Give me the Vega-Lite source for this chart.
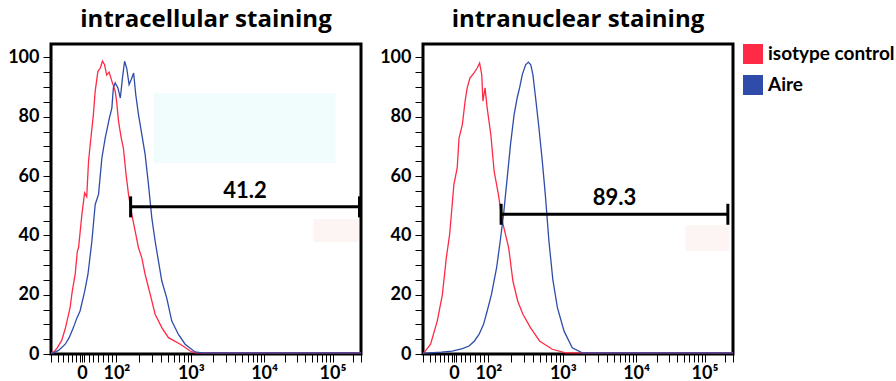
{
  "$schema": "https://vega.github.io/schema/vega-lite/v6.json",
  "background": "white",
  "padding": {"left": 6, "top": 6, "right": 2, "bottom": 30},
  "datasets": {
    "hist": [
      {"panel":"intracellular","sample":"isotype control","x":0,"y":0.3},
      {"panel":"intracellular","sample":"isotype control","x":10,"y":0.8},
      {"panel":"intracellular","sample":"isotype control","x":20,"y":2},
      {"panel":"intracellular","sample":"isotype control","x":35,"y":4.5},
      {"panel":"intracellular","sample":"isotype control","x":47,"y":8.5},
      {"panel":"intracellular","sample":"isotype control","x":55,"y":12},
      {"panel":"intracellular","sample":"isotype control","x":63,"y":15.6},
      {"panel":"intracellular","sample":"isotype control","x":70,"y":21},
      {"panel":"intracellular","sample":"isotype control","x":80,"y":27},
      {"panel":"intracellular","sample":"isotype control","x":87,"y":34.7},
      {"panel":"intracellular","sample":"isotype control","x":91,"y":35.8},
      {"panel":"intracellular","sample":"isotype control","x":102,"y":47},
      {"panel":"intracellular","sample":"isotype control","x":111,"y":54.3},
      {"panel":"intracellular","sample":"isotype control","x":118,"y":53},
      {"panel":"intracellular","sample":"isotype control","x":124,"y":65},
      {"panel":"intracellular","sample":"isotype control","x":133,"y":74},
      {"panel":"intracellular","sample":"isotype control","x":140,"y":80.7},
      {"panel":"intracellular","sample":"isotype control","x":146,"y":88.6},
      {"panel":"intracellular","sample":"isotype control","x":155,"y":95.3},
      {"panel":"intracellular","sample":"isotype control","x":163,"y":96.4},
      {"panel":"intracellular","sample":"isotype control","x":170,"y":98.7},
      {"panel":"intracellular","sample":"isotype control","x":177,"y":97.5},
      {"panel":"intracellular","sample":"isotype control","x":184,"y":94},
      {"panel":"intracellular","sample":"isotype control","x":192,"y":95},
      {"panel":"intracellular","sample":"isotype control","x":201,"y":92},
      {"panel":"intracellular","sample":"isotype control","x":212,"y":88.6},
      {"panel":"intracellular","sample":"isotype control","x":217,"y":85},
      {"panel":"intracellular","sample":"isotype control","x":223,"y":78.5},
      {"panel":"intracellular","sample":"isotype control","x":232,"y":72.8},
      {"panel":"intracellular","sample":"isotype control","x":239,"y":69.5},
      {"panel":"intracellular","sample":"isotype control","x":248,"y":60.5},
      {"panel":"intracellular","sample":"isotype control","x":256,"y":53.8},
      {"panel":"intracellular","sample":"isotype control","x":267,"y":47},
      {"panel":"intracellular","sample":"isotype control","x":278,"y":41.4},
      {"panel":"intracellular","sample":"isotype control","x":289,"y":35.8},
      {"panel":"intracellular","sample":"isotype control","x":300,"y":32.4},
      {"panel":"intracellular","sample":"isotype control","x":311,"y":26.8},
      {"panel":"intracellular","sample":"isotype control","x":328,"y":20},
      {"panel":"intracellular","sample":"isotype control","x":344,"y":13.4},
      {"panel":"intracellular","sample":"isotype control","x":366,"y":8.9},
      {"panel":"intracellular","sample":"isotype control","x":388,"y":5.5},
      {"panel":"intracellular","sample":"isotype control","x":427,"y":3.3},
      {"panel":"intracellular","sample":"isotype control","x":460,"y":1},
      {"panel":"intracellular","sample":"isotype control","x":476,"y":0.4},
      {"panel":"intracellular","sample":"isotype control","x":1024,"y":0.4},
      {"panel":"intranuclear","sample":"isotype control","x":0,"y":0.3},
      {"panel":"intranuclear","sample":"isotype control","x":3,"y":0.4},
      {"panel":"intranuclear","sample":"isotype control","x":25,"y":3.3},
      {"panel":"intranuclear","sample":"isotype control","x":47,"y":11.1},
      {"panel":"intranuclear","sample":"isotype control","x":64,"y":20},
      {"panel":"intranuclear","sample":"isotype control","x":77,"y":32.4},
      {"panel":"intranuclear","sample":"isotype control","x":88,"y":40.3},
      {"panel":"intranuclear","sample":"isotype control","x":102,"y":57.1},
      {"panel":"intranuclear","sample":"isotype control","x":113,"y":62.7},
      {"panel":"intranuclear","sample":"isotype control","x":119,"y":72.8},
      {"panel":"intranuclear","sample":"isotype control","x":130,"y":77.3},
      {"panel":"intranuclear","sample":"isotype control","x":139,"y":85.2},
      {"panel":"intranuclear","sample":"isotype control","x":146,"y":89.7},
      {"panel":"intranuclear","sample":"isotype control","x":155,"y":93},
      {"panel":"intranuclear","sample":"isotype control","x":168,"y":94.7},
      {"panel":"intranuclear","sample":"isotype control","x":179,"y":96.4},
      {"panel":"intranuclear","sample":"isotype control","x":187,"y":98.1},
      {"panel":"intranuclear","sample":"isotype control","x":194,"y":94.2},
      {"panel":"intranuclear","sample":"isotype control","x":198,"y":85.2},
      {"panel":"intranuclear","sample":"isotype control","x":205,"y":89.7},
      {"panel":"intranuclear","sample":"isotype control","x":212,"y":82.9},
      {"panel":"intranuclear","sample":"isotype control","x":224,"y":74},
      {"panel":"intranuclear","sample":"isotype control","x":235,"y":61.6},
      {"panel":"intranuclear","sample":"isotype control","x":249,"y":53.8},
      {"panel":"intranuclear","sample":"isotype control","x":262,"y":44.8},
      {"panel":"intranuclear","sample":"isotype control","x":283,"y":35.8},
      {"panel":"intranuclear","sample":"isotype control","x":297,"y":24.6},
      {"panel":"intranuclear","sample":"isotype control","x":313,"y":17.8},
      {"panel":"intranuclear","sample":"isotype control","x":330,"y":13.4},
      {"panel":"intranuclear","sample":"isotype control","x":355,"y":8.9},
      {"panel":"intranuclear","sample":"isotype control","x":385,"y":4.4},
      {"panel":"intranuclear","sample":"isotype control","x":427,"y":1.6},
      {"panel":"intranuclear","sample":"isotype control","x":471,"y":0.4},
      {"panel":"intranuclear","sample":"isotype control","x":1024,"y":0.4},
      {"panel":"intracellular","sample":"Aire","x":0,"y":0.2},
      {"panel":"intracellular","sample":"Aire","x":8,"y":0.4},
      {"panel":"intracellular","sample":"Aire","x":25,"y":1.2},
      {"panel":"intracellular","sample":"Aire","x":47,"y":3.3},
      {"panel":"intracellular","sample":"Aire","x":60,"y":5.5},
      {"panel":"intracellular","sample":"Aire","x":74,"y":8.9},
      {"panel":"intracellular","sample":"Aire","x":85,"y":12},
      {"panel":"intracellular","sample":"Aire","x":96,"y":14.5},
      {"panel":"intracellular","sample":"Aire","x":111,"y":21},
      {"panel":"intracellular","sample":"Aire","x":122,"y":26.8},
      {"panel":"intracellular","sample":"Aire","x":135,"y":38},
      {"panel":"intracellular","sample":"Aire","x":146,"y":50.4},
      {"panel":"intracellular","sample":"Aire","x":157,"y":53.8},
      {"panel":"intracellular","sample":"Aire","x":168,"y":66},
      {"panel":"intracellular","sample":"Aire","x":179,"y":72.8},
      {"panel":"intracellular","sample":"Aire","x":193,"y":79.6},
      {"panel":"intracellular","sample":"Aire","x":201,"y":82.9},
      {"panel":"intracellular","sample":"Aire","x":206,"y":89.7},
      {"panel":"intracellular","sample":"Aire","x":212,"y":91.4},
      {"panel":"intracellular","sample":"Aire","x":221,"y":89.7},
      {"panel":"intracellular","sample":"Aire","x":229,"y":86.3},
      {"panel":"intracellular","sample":"Aire","x":236,"y":93},
      {"panel":"intracellular","sample":"Aire","x":243,"y":98.7},
      {"panel":"intracellular","sample":"Aire","x":250,"y":96.4},
      {"panel":"intracellular","sample":"Aire","x":258,"y":90.8},
      {"panel":"intracellular","sample":"Aire","x":265,"y":92.5},
      {"panel":"intracellular","sample":"Aire","x":273,"y":94.7},
      {"panel":"intracellular","sample":"Aire","x":280,"y":87.4},
      {"panel":"intracellular","sample":"Aire","x":289,"y":80.7},
      {"panel":"intracellular","sample":"Aire","x":300,"y":74},
      {"panel":"intracellular","sample":"Aire","x":311,"y":67.2},
      {"panel":"intracellular","sample":"Aire","x":322,"y":57.1},
      {"panel":"intracellular","sample":"Aire","x":333,"y":45.9},
      {"panel":"intracellular","sample":"Aire","x":344,"y":38},
      {"panel":"intracellular","sample":"Aire","x":355,"y":31.3},
      {"panel":"intracellular","sample":"Aire","x":366,"y":24.6},
      {"panel":"intracellular","sample":"Aire","x":382,"y":19},
      {"panel":"intracellular","sample":"Aire","x":399,"y":11.1},
      {"panel":"intracellular","sample":"Aire","x":421,"y":6.6},
      {"panel":"intracellular","sample":"Aire","x":443,"y":3.3},
      {"panel":"intracellular","sample":"Aire","x":476,"y":0.7},
      {"panel":"intracellular","sample":"Aire","x":500,"y":0.4},
      {"panel":"intracellular","sample":"Aire","x":1024,"y":0.4},
      {"panel":"intranuclear","sample":"Aire","x":0,"y":0.2},
      {"panel":"intranuclear","sample":"Aire","x":9,"y":0.3},
      {"panel":"intranuclear","sample":"Aire","x":60,"y":0.6},
      {"panel":"intranuclear","sample":"Aire","x":97,"y":1},
      {"panel":"intranuclear","sample":"Aire","x":130,"y":1.8},
      {"panel":"intranuclear","sample":"Aire","x":152,"y":2.7},
      {"panel":"intranuclear","sample":"Aire","x":170,"y":4.4},
      {"panel":"intranuclear","sample":"Aire","x":185,"y":6.6},
      {"panel":"intranuclear","sample":"Aire","x":200,"y":10},
      {"panel":"intranuclear","sample":"Aire","x":212,"y":14.5},
      {"panel":"intranuclear","sample":"Aire","x":226,"y":20},
      {"panel":"intranuclear","sample":"Aire","x":243,"y":29},
      {"panel":"intranuclear","sample":"Aire","x":255,"y":38},
      {"panel":"intranuclear","sample":"Aire","x":266,"y":47},
      {"panel":"intranuclear","sample":"Aire","x":277,"y":58.2},
      {"panel":"intranuclear","sample":"Aire","x":289,"y":70.6},
      {"panel":"intranuclear","sample":"Aire","x":301,"y":80.7},
      {"panel":"intranuclear","sample":"Aire","x":311,"y":86.3},
      {"panel":"intranuclear","sample":"Aire","x":319,"y":89.7},
      {"panel":"intranuclear","sample":"Aire","x":328,"y":94.2},
      {"panel":"intranuclear","sample":"Aire","x":339,"y":97.5},
      {"panel":"intranuclear","sample":"Aire","x":348,"y":98.4},
      {"panel":"intranuclear","sample":"Aire","x":356,"y":97.5},
      {"panel":"intranuclear","sample":"Aire","x":363,"y":94.2},
      {"panel":"intranuclear","sample":"Aire","x":372,"y":86.3},
      {"panel":"intranuclear","sample":"Aire","x":383,"y":76.2},
      {"panel":"intranuclear","sample":"Aire","x":393,"y":66.1},
      {"panel":"intranuclear","sample":"Aire","x":404,"y":53.8},
      {"panel":"intranuclear","sample":"Aire","x":416,"y":38},
      {"panel":"intranuclear","sample":"Aire","x":429,"y":25},
      {"panel":"intranuclear","sample":"Aire","x":444,"y":15.6},
      {"panel":"intranuclear","sample":"Aire","x":466,"y":7.7},
      {"panel":"intranuclear","sample":"Aire","x":493,"y":2.1},
      {"panel":"intranuclear","sample":"Aire","x":526,"y":0.4},
      {"panel":"intranuclear","sample":"Aire","x":1024,"y":0.4}
    ],
    "gates": [
      {"panel":"intracellular","x":263,"x2":1019,"y":49.6,"label":"41.2"},
      {"panel":"intranuclear","x":258,"x2":1007,"y":47.1,"label":"89.3"}
    ],
    "boxes": [
      {"panel":"intracellular","kind":"cyan","x":339,"x2":940,"y":64.3,"y2":87.9},
      {"panel":"intracellular","kind":"pink","x":867,"x2":1016,"y":37.7,"y2":45.5},
      {"panel":"intranuclear","kind":"pink","x":867,"x2":1012,"y":34.7,"y2":43.4}
    ]
  },
  "hconcat": [
    {
      "width": 310,
      "height": 310,
      "title": {"text": "intracellular staining"},
      "encoding": {
        "x": {"field": "x", "type": "quantitative", "scale": {"domain": [0, 1024], "nice": false, "zero": false},
          "axis": {
            "values": [0,22,40,56,70,84,95,102,110,124,140,156,172,188,202,216,290,333,364,388,407,424,438,451,462,535,577,608,631,650,667,681,693,704,772,812,840,862,880,895,908,920,930,998,1024],
            "labelExpr": "datum.value == 102 ? '0' : datum.value == 216 ? '10²' : datum.value == 462 ? '10³' : datum.value == 704 ? '10⁴' : datum.value == 930 ? '10⁵' : ''",
            "tickSize": 8,
            "encode": {"ticks": {"update": {
              "y2": [{"test": "indexof([0,102,216,462,704,930,1024], datum.value) >= 0", "value": 8}, {"value": 4}],
              "strokeWidth": [{"test": "indexof([0,102,216,462,704,930,1024], datum.value) >= 0", "value": 3}, {"value": 1.5}]}}},
            "labelOverlap": false, "labelFlush": false, "labelBound": false, "labelPadding": 2, "domain": false, "grid": false, "title": null
          }},
        "y": {"field": "y", "type": "quantitative", "scale": {"domain": [0, 104.5], "nice": false},
          "axis": {
            "values": [0,5,10,15,20,25,30,35,40,45,50,55,60,65,70,75,80,85,90,95,100],
            "labelExpr": "datum.value % 20 == 0 ? datum.label : ''",
            "tickSize": 8,
            "encode": {"ticks": {"update": {
              "x2": [{"test": "datum.value % 20 == 0", "value": -8}, {"value": -3}],
              "strokeWidth": [{"test": "datum.value % 20 == 0", "value": 3}, {"value": 1.5}]}}},
            "labelOverlap": false, "labelFlush": false, "labelPadding": 4, "domain": false, "grid": false, "title": null
          }}
      },
      "layer": [
        {
          "data": {"name": "hist"},
          "transform": [{"filter": "datum.panel == 'intracellular'"}],
          "mark": {"type": "line", "strokeWidth": 1.3, "interpolate": "linear"},
          "encoding": {
            "color": {"field": "sample", "type": "nominal", "sort": ["isotype control", "Aire"],
              "scale": {"domain": ["isotype control", "Aire"], "range": ["#ff2a45", "#2f4caa"]},
              "legend": {"encode": {"symbols": {"update": {"fill": {"scale": "color", "field": "value"}, "fillOpacity": {"value": 1}, "strokeWidth": {"value": 0}}}}}}
          }
        },
        {
          "data": {"name": "boxes"},
          "transform": [{"filter": "datum.panel == 'intracellular' && datum.kind == 'cyan'"}],
          "mark": {"type": "rect", "color": "#f1fcfd"},
          "encoding": {"x2": {"field": "x2"}, "y2": {"field": "y2"}}
        },
        {
          "data": {"name": "boxes"},
          "transform": [{"filter": "datum.panel == 'intracellular' && datum.kind == 'pink'"}],
          "mark": {"type": "rect", "color": "#fdf4f4"},
          "encoding": {"x2": {"field": "x2"}, "y2": {"field": "y2"}}
        },
        {
          "data": {"name": "gates"},
          "transform": [{"filter": "datum.panel == 'intracellular'"}],
          "mark": {"type": "rule", "strokeWidth": 3, "color": "black"},
          "encoding": {"x2": {"field": "x2"}}
        },
        {
          "data": {"name": "gates"},
          "transform": [{"filter": "datum.panel == 'intracellular'"}, {"fold": ["x", "x2"], "as": ["end", "x"]}],
          "mark": {"type": "tick", "orient": "vertical", "size": 21, "thickness": 3, "color": "black", "opacity": 1},
          "encoding": {}
        },
        {
          "data": {"name": "gates"},
          "transform": [{"filter": "datum.panel == 'intracellular'"}, {"fold": ["x", "x2"], "as": ["end", "x"]}, {"aggregate": [{"op": "mean", "field": "x", "as": "x"}], "groupby": ["label", "y"]}],
          "mark": {"type": "text", "font": "Lato", "fontSize": 22, "fontWeight": "bold", "color": "black", "baseline": "bottom", "dy": -4, "align": "center"},
          "encoding": {"text": {"field": "label"}}
        }
      ]
    },
    {
      "width": 310,
      "height": 310,
      "title": {"text": "intranuclear staining"},
      "encoding": {
        "x": {"field": "x", "type": "quantitative", "scale": {"domain": [0, 1024], "nice": false, "zero": false},
          "axis": {
            "values": [0,22,40,56,70,84,95,102,110,124,140,156,172,188,202,216,290,333,364,388,407,424,438,451,462,535,577,608,631,650,667,681,693,704,772,812,840,862,880,895,908,920,930,998,1024],
            "labelExpr": "datum.value == 102 ? '0' : datum.value == 216 ? '10²' : datum.value == 462 ? '10³' : datum.value == 704 ? '10⁴' : datum.value == 930 ? '10⁵' : ''",
            "tickSize": 8,
            "encode": {"ticks": {"update": {
              "y2": [{"test": "indexof([0,102,216,462,704,930,1024], datum.value) >= 0", "value": 8}, {"value": 4}],
              "strokeWidth": [{"test": "indexof([0,102,216,462,704,930,1024], datum.value) >= 0", "value": 3}, {"value": 1.5}]}}},
            "labelOverlap": false, "labelFlush": false, "labelBound": false, "labelPadding": 2, "domain": false, "grid": false, "title": null
          }},
        "y": {"field": "y", "type": "quantitative", "scale": {"domain": [0, 104.5], "nice": false},
          "axis": {
            "values": [0,5,10,15,20,25,30,35,40,45,50,55,60,65,70,75,80,85,90,95,100],
            "labelExpr": "datum.value % 20 == 0 ? datum.label : ''",
            "tickSize": 8,
            "encode": {"ticks": {"update": {
              "x2": [{"test": "datum.value % 20 == 0", "value": -8}, {"value": -3}],
              "strokeWidth": [{"test": "datum.value % 20 == 0", "value": 3}, {"value": 1.5}]}}},
            "labelOverlap": false, "labelFlush": false, "labelPadding": 4, "domain": false, "grid": false, "title": null
          }}
      },
      "layer": [
        {
          "data": {"name": "hist"},
          "transform": [{"filter": "datum.panel == 'intranuclear'"}],
          "mark": {"type": "line", "strokeWidth": 1.3, "interpolate": "linear"},
          "encoding": {
            "color": {"field": "sample", "type": "nominal", "sort": ["isotype control", "Aire"],
              "scale": {"domain": ["isotype control", "Aire"], "range": ["#ff2a45", "#2f4caa"]},
              "legend": {"encode": {"symbols": {"update": {"fill": {"scale": "color", "field": "value"}, "fillOpacity": {"value": 1}, "strokeWidth": {"value": 0}}}}}}
          }
        },
        {
          "data": {"name": "boxes"},
          "transform": [{"filter": "datum.panel == 'intranuclear' && datum.kind == 'pink'"}],
          "mark": {"type": "rect", "color": "#fdf4f4"},
          "encoding": {"x2": {"field": "x2"}, "y2": {"field": "y2"}}
        },
        {
          "data": {"name": "gates"},
          "transform": [{"filter": "datum.panel == 'intranuclear'"}],
          "mark": {"type": "rule", "strokeWidth": 3, "color": "black"},
          "encoding": {"x2": {"field": "x2"}}
        },
        {
          "data": {"name": "gates"},
          "transform": [{"filter": "datum.panel == 'intranuclear'"}, {"fold": ["x", "x2"], "as": ["end", "x"]}],
          "mark": {"type": "tick", "orient": "vertical", "size": 21, "thickness": 3, "color": "black", "opacity": 1},
          "encoding": {}
        },
        {
          "data": {"name": "gates"},
          "transform": [{"filter": "datum.panel == 'intranuclear'"}, {"fold": ["x", "x2"], "as": ["end", "x"]}, {"aggregate": [{"op": "mean", "field": "x", "as": "x"}], "groupby": ["label", "y"]}],
          "mark": {"type": "text", "font": "Lato", "fontSize": 22, "fontWeight": "bold", "color": "black", "baseline": "bottom", "dy": -4, "align": "center"},
          "encoding": {"text": {"field": "label"}}
        }
      ]
    }
  ],
  "spacing": 62,
  "bounds": "flush",
  "resolve": {"scale": {"color": "shared"}, "legend": {"color": "shared"}},
  "config": {
    "view": {"stroke": "black", "strokeWidth": 3},
    "axis": {"labelFont": "Lato", "labelFontSize": 18, "labelFontWeight": "bold", "labelColor": "black", "tickColor": "black"},
    "title": {"font": "Open Sans", "fontSize": 24, "fontWeight": "bold", "color": "black", "offset": 12, "anchor": "middle"},
    "legend": {
      "orient": "right", "title": null, "offset": 5, "padding": 0,
      "symbolType": "square", "symbolSize": 400,
      "labelFont": "Lato", "labelFontSize": 19, "labelFontWeight": "bold", "labelColor": "black",
      "rowPadding": 11, "labelOffset": 5
    }
  }
}
